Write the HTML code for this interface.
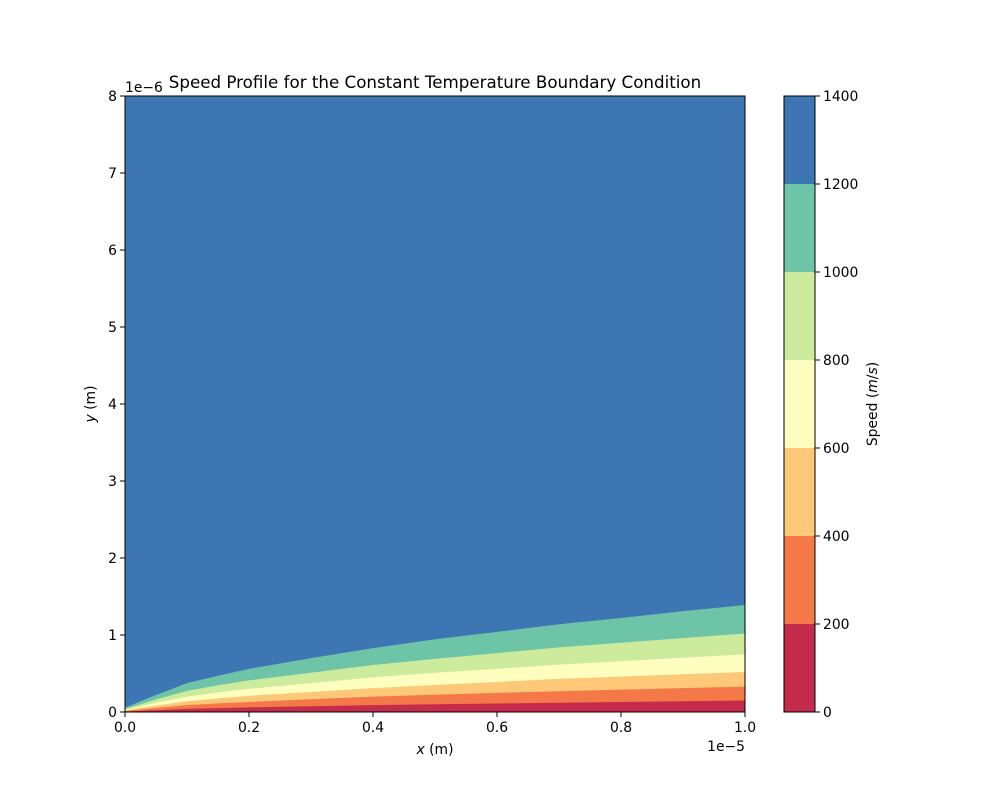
<!DOCTYPE html>
<html><head><meta charset="utf-8"><style>
body{margin:0;background:#fff}
svg text{font-family:"DejaVu Sans","Liberation Sans",sans-serif;font-size:13.9px;fill:#000}
</style></head><body>
<svg width="1000" height="800" id="chart">
<rect width="1000" height="800" fill="#fff"/>
<g id="plot"></g>
<g id="axes"></g>
<text x="435" y="88" text-anchor="middle" style="font-size:16.7px">Speed Profile for the Constant Temperature Boundary Condition</text>
<text x="435" y="754" text-anchor="middle"><tspan font-style="italic">x</tspan> (m)</text>
<text transform="translate(95,404) rotate(-90)" text-anchor="middle"><tspan font-style="italic">y</tspan> (m)</text>
<text x="745" y="751" text-anchor="end">1e−5</text>
<text x="125" y="92">1e−6</text>
<text transform="translate(877,404) rotate(-90)" text-anchor="middle">Speed  (<tspan font-style="italic">m</tspan>/<tspan font-style="italic">s</tspan>)</text>
</svg>
<script>
const xs=[0,0.025,0.05,0.1,0.15,0.2,0.3,0.4,0.5,0.6,0.7,0.8,0.9,1.0];
const b1=[0.006,0.015,0.024,0.04,0.05,0.06,0.075,0.09,0.10,0.11,0.12,0.13,0.14,0.15];
const b2=[0.013,0.033,0.053,0.089,0.112,0.13,0.165,0.20,0.224,0.248,0.27,0.29,0.31,0.33];
const b3=[0.02,0.052,0.083,0.14,0.177,0.21,0.26,0.31,0.35,0.39,0.43,0.46,0.49,0.52];
const b4=[0.03,0.075,0.12,0.20,0.255,0.30,0.375,0.45,0.51,0.56,0.615,0.66,0.705,0.75];
const b5=[0.04,0.10,0.163,0.275,0.347,0.41,0.51,0.61,0.69,0.765,0.84,0.90,0.96,1.02];
const b6=[0.056,0.14,0.22,0.375,0.47,0.56,0.70,0.83,0.945,1.04,1.14,1.22,1.31,1.39];
const levels=[0,200,400,600,800,1000,1200,1400];
const colors=["#c52b4a","#f47848","#fdc877","#fefebe","#cdeb9c","#6dc4a6","#3e76b3"];
const xTicks=[0,0.2,0.4,0.6,0.8,1.0];
const yTicks=[0,1,2,3,4,5,6,7,8];
const L=125,R=745,T=96,B=712;
const sx=v=>L+v*(R-L);
const sy=v=>B-v/8*(B-T);
const NS="http://www.w3.org/2000/svg";
const plot=document.getElementById('plot'),axes=document.getElementById('axes');
function mk(tag,attrs,parent){const e=document.createElementNS(NS,tag);for(const k in attrs)e.setAttribute(k,attrs[k]);parent.appendChild(e);return e;}
let bg=mk('rect',{x:L,y:T,width:R-L,height:B-T,fill:colors[6]},plot);


const bounds=[b1,b2,b3,b4,b5,b6];
for(let i=5;i>=0;i--){
  const b=bounds[i];
  let d='M'+sx(0)+','+sy(0);
  xs.forEach((x,j)=>{d+=' L'+sx(x)+','+sy(b[j]);});
  d+=' L'+sx(1)+','+sy(0)+' Z';
  const p=mk('path',{d:d,fill:colors[i]},plot);
  
  
}
const fr=mk('rect',{x:L,y:T,width:R-L,height:B-T,fill:'none',stroke:'#000','stroke-width':1},axes);


xTicks.forEach(t=>{
  mk('line',{x1:sx(t),x2:sx(t),y1:B,y2:B+5,stroke:'#000'},axes);
  const tx=mk('text',{x:sx(t),y:B+20,'text-anchor':'middle'},axes);tx.textContent=t.toFixed(1);
  
  
});
yTicks.forEach(t=>{
  mk('line',{x1:L-5,x2:L,y1:sy(t),y2:sy(t),stroke:'#000'},axes);
  const tx=mk('text',{x:L-8,y:sy(t)+5,'text-anchor':'end'},axes);tx.textContent=t;
  
  
});
const CL=784,CR=815;
const cy=v=>B-v/1400*(B-T);
for(let i=0;i<7;i++){
  const r=mk('rect',{x:CL,y:cy(levels[i+1]),width:CR-CL,height:cy(levels[i])-cy(levels[i+1]),fill:colors[i]},axes);
  
  
}
const cf=mk('rect',{x:CL,y:T,width:CR-CL,height:B-T,fill:'none',stroke:'#000'},axes);


levels.forEach(v=>{
  mk('line',{x1:CR,x2:CR+5,y1:cy(v),y2:cy(v),stroke:'#000'},axes);
  const tx=mk('text',{x:CR+8,y:cy(v)+5},axes);tx.textContent=v;
  
  
});
</script>
</body></html>
